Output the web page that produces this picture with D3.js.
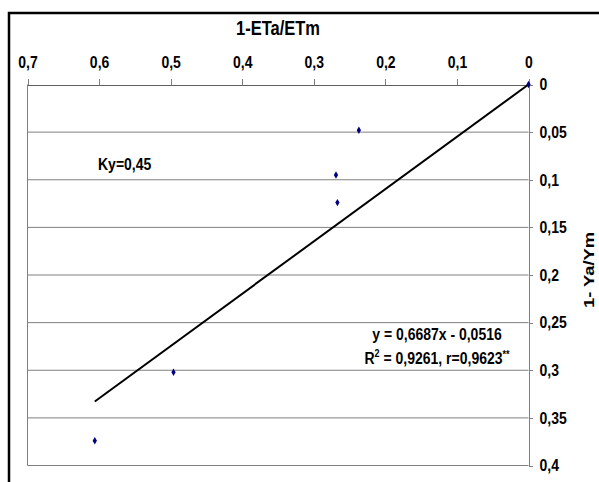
<!DOCTYPE html>
<meta charset="utf-8">
<style>
body { margin:0; background:#fff; }
text { font-family: "Liberation Sans", Arial, sans-serif; font-weight:bold; font-size:14px; fill:#000; }
.grid line { stroke:#808080; stroke-width:1; }
.axis path, .axis line { fill:none; stroke:#808080; shape-rendering:crispEdges; }
.axis.top path { stroke:#606060; }
</style>
<body>
<script src="https://d3js.org/d3.v7.min.js"></script>
<script>

// 1-ETa/ETm (x) and 1-Ya/Ym (y) per observation
var etDeficit = [0, 0.237, 0.269, 0.267, 0.496, 0.606];
var yieldDeficit = [0, 0.048, 0.095, 0.124, 0.302, 0.374];
var xTicks = [0, 0.1, 0.2, 0.3, 0.4, 0.5, 0.6, 0.7];
var yTicks = [0, 0.05, 0.1, 0.15, 0.2, 0.25, 0.3, 0.35, 0.4];

var SY = 1.18; // the original picture is stretched a bit vertically

var svg = d3.select("body").append("svg").attr("width", 599).attr("height", 482);

// outer frame
svg.append("path").attr("d", "M9,482V13H599").attr("fill", "none")
	.attr("stroke", "#000").attr("stroke-width", 2.5);

var x = d3.scaleLinear().domain([0, 0.7]).range([528.5, 27.5]);
var y = d3.scaleLinear().domain([0, 0.4]).range([84.5, 465.5]);

var fmt = function(d){ return String(+d.toFixed(2)).replace(".", ","); };

function stretch(sel){
	sel.each(function(){
		var t = d3.select(this);
		var tx = +t.attr("x") || 0, ty = +t.attr("y") || 0;
		t.attr("x", null).attr("y", null)
			.attr("transform", "translate(" + tx + "," + ty + ") scale(1," + SY + ")");
	});
}

// horizontal gridlines
svg.append("g").attr("class", "grid").selectAll("line")
	.data(yTicks.slice(1)).enter().append("line")
	.attr("x1", x(0.7)).attr("x2", x(0))
	.attr("y1", d=>y(d)).attr("y2", d=>y(d));

svg.append("line").attr("x1", x(0.7)).attr("x2", x(0.7))
	.attr("y1", y(0)).attr("y2", y(0.4)).attr("stroke", "#808080");

svg.append("g").attr("class", "axis top").attr("transform", "translate(0," + y(0) + ")")
	.call(d3.axisTop(x).tickValues(xTicks).tickSize(6).tickSizeOuter(0).tickPadding(11).tickFormat(fmt));

svg.append("g").attr("class", "axis right").attr("transform", "translate(" + x(0) + ",0)")
	.call(d3.axisRight(y).tickValues(yTicks).tickSize(4).tickSizeOuter(0).tickPadding(7).tickFormat(fmt));
svg.selectAll(".axis").attr("font-family", null).attr("font-size", null);
stretch(svg.selectAll(".axis text"));

// trend line through origin (least squares)
var sxy = d3.sum(etDeficit, (d,i)=>d*yieldDeficit[i]);
var sxx = d3.sum(etDeficit, d=>d*d);
var k = sxy / sxx;
var xmax = d3.max(etDeficit);
svg.append("line")
	.attr("x1", x(0)).attr("y1", y(0))
	.attr("x2", x(xmax)).attr("y2", y(k*xmax))
	.attr("stroke", "#000").attr("stroke-width", 2);

svg.selectAll(".pt").data(etDeficit).enter().append("path")
	.attr("class", "pt")
	.attr("transform", (d,i)=>"translate(" + x(d) + "," + y(yieldDeficit[i]) + ")")
	.attr("d", d3.symbol().type(d3.symbolDiamond).size(16))
	.attr("fill", "#000080");

// titles and notes
var notes = svg.append("g");
notes.append("text").attr("x", 278).attr("y", 35).attr("text-anchor", "middle")
	.style("font-size", "16.5px").text("1-ETa/ETm");
notes.append("text").attr("x", 98).attr("y", 170).text("Ky=0,45");
notes.append("text").attr("x", 437).attr("y", 340).attr("text-anchor", "middle").text("y = 0,6687x - 0,0516");
var r2 = notes.append("text").attr("x", 437).attr("y", 364).attr("text-anchor", "middle");
r2.append("tspan").text("R");
r2.append("tspan").attr("dy", -6).style("font-size", "9px").text("2");
r2.append("tspan").attr("dy", 6).text(" = 0,9261, r=0,9623");
r2.append("tspan").attr("dy", -5).style("font-size", "9px").text("**");
stretch(notes.selectAll("text"));

svg.append("text").attr("transform", "translate(594,270) rotate(-90) scale(" + SY + ",1)")
	.attr("text-anchor", "middle").style("font-size", "15.5px").text("1- Ya/Ym");

</script>
</body>
